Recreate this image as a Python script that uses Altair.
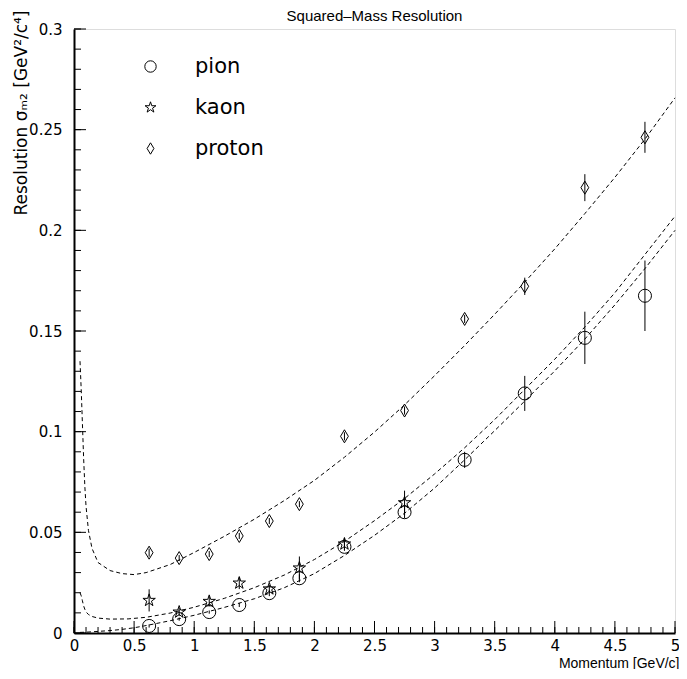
import altair as alt
import pandas as pd

# ---------------- data ----------------
momentum = [0.625, 0.875, 1.125, 1.375, 1.625, 1.875, 2.25, 2.75, 3.25, 3.75, 4.25, 4.75]

pion_res = [0.0035, 0.0069, 0.0104, 0.0139, 0.0198, 0.0272, 0.0428, 0.0600, 0.0860, 0.1190, 0.1466, 0.1675]
pion_err = [0.0008, 0.0008, 0.0008, 0.0010, 0.0015, 0.0020, 0.0020, 0.0030, 0.0040, 0.0087, 0.0130, 0.0175]

kaon_mom = [0.625, 0.875, 1.125, 1.375, 1.625, 1.875, 2.25, 2.75]
kaon_res = [0.0162, 0.0104, 0.0157, 0.0248, 0.0219, 0.0323, 0.0442, 0.0647]
kaon_err = [0.0055, 0.0020, 0.0025, 0.0030, 0.0020, 0.0057, 0.0030, 0.0060]

proton_res = [0.0399, 0.0372, 0.0392, 0.0482, 0.0556, 0.0640, 0.0977, 0.1105, 0.1560, 0.1722, 0.2212, 0.2462]
proton_err = [0.0020, 0.0015, 0.0015, 0.0015, 0.0015, 0.0015, 0.0020, 0.0020, 0.0020, 0.0043, 0.0067, 0.0077]

# fitted curves (dashed), read point by point
proton_fit_x = [0.05, 0.06, 0.07, 0.08, 0.09, 0.10, 0.12, 0.15, 0.2, 0.3, 0.4, 0.5, 0.6, 0.8, 1.0,
                1.25, 1.5, 1.75, 2.0, 2.25, 2.5, 2.75, 3.0, 3.25, 3.5, 3.75, 4.0, 4.25, 4.5, 4.75, 5.0]
proton_fit_y = [0.135, 0.121, 0.104, 0.087, 0.073, 0.063, 0.051, 0.042, 0.035, 0.031, 0.0295, 0.029, 0.030,
                0.034, 0.040, 0.048, 0.0565, 0.0658, 0.0758, 0.0873, 0.0998, 0.1133, 0.1278, 0.1428, 0.1583,
                0.1743, 0.1908, 0.2083, 0.2263, 0.2453, 0.2658]

kaon_fit_x = [0.05, 0.06, 0.07, 0.08, 0.09, 0.10, 0.12, 0.15, 0.2, 0.3, 0.45, 0.6, 0.8, 1.0,
              1.25, 1.5, 1.75, 2.0, 2.25, 2.5, 2.75, 3.0, 3.25, 3.5, 3.75, 4.0, 4.25, 4.5, 4.75, 5.0]
kaon_fit_y = [0.020, 0.0185, 0.016, 0.0135, 0.0118, 0.0105, 0.0092, 0.0082, 0.0074, 0.0069, 0.0070, 0.0078,
              0.0099, 0.0128, 0.0172, 0.0225, 0.0288, 0.0365, 0.0455, 0.0558, 0.0668, 0.079, 0.092, 0.106,
              0.121, 0.136, 0.152, 0.169, 0.188, 0.207]

pion_fit_x = [0.05, 0.1, 0.2, 0.3, 0.4, 0.5, 0.6, 0.8, 1.0, 1.25, 1.5, 1.75, 2.0, 2.25, 2.5, 2.75,
              3.0, 3.25, 3.5, 3.75, 4.0, 4.25, 4.5, 4.75, 5.0]
pion_fit_y = [0.0003, 0.0004, 0.0008, 0.0012, 0.0018, 0.0026, 0.0037, 0.0061, 0.0088, 0.0127, 0.017, 0.0225,
              0.0295, 0.0385, 0.0485, 0.0595, 0.072, 0.086, 0.1005, 0.1152, 0.1302, 0.146, 0.163, 0.181, 0.200]

particles = ["pion", "kaon", "proton"]
title_text = ["Squared–Mass Resolution"]

x_major = [0, 0.5, 1, 1.5, 2, 2.5, 3, 3.5, 4, 4.5, 5]
x_minor = [round(i * 0.1, 1) for i in range(51)]
y_major = [0, 0.05, 0.1, 0.15, 0.2, 0.25, 0.3]
y_minor = [round(i * 0.01, 2) for i in range(31)]

# ---------------- tables ----------------
rows = []
for p, r, e in zip(momentum, pion_res, pion_err):
    rows.append({"particle": "pion", "p": p, "res": r, "lo": r - e, "hi": r + e})
for p, r, e in zip(kaon_mom, kaon_res, kaon_err):
    rows.append({"particle": "kaon", "p": p, "res": r, "lo": r - e, "hi": r + e})
for p, r, e in zip(momentum, proton_res, proton_err):
    rows.append({"particle": "proton", "p": p, "res": r, "lo": r - e, "hi": r + e})
points = pd.DataFrame(rows)

curves = pd.concat([
    pd.DataFrame({"curve": "proton", "p": proton_fit_x, "res": proton_fit_y}),
    pd.DataFrame({"curve": "kaon", "p": kaon_fit_x, "res": kaon_fit_y}),
    pd.DataFrame({"curve": "pion", "p": pion_fit_x, "res": pion_fit_y}),
])

W, H = 601, 604
LABEL_FONT = "DejaVu Sans"

xscale = alt.Scale(domain=[0, 5], nice=False, zero=False)
yscale = alt.Scale(domain=[0, 0.3], nice=False, zero=False)

xaxis = alt.Axis(values=x_major, format="~g", ticks=False, grid=False, domainColor="black",
                 domainWidth=2, labelFont=LABEL_FONT, labelFontSize=15, labelColor="black",
                 labelPadding=5, labelFlush=False, labelOverlap=False,
                 title="Momentum [GeV/c]", titleFont="Liberation Sans", titleFontSize=14,
                 titleFontWeight="normal", titleColor="black", titleAlign="right",
                 titleBaseline="alphabetic", titleX=W + 4, titleY=34)
yaxis = alt.Axis(values=y_major, format="~g", ticks=False, grid=False, domainColor="black",
                 domainWidth=2, labelFont=LABEL_FONT, labelFontSize=15, labelColor="black",
                 labelPadding=12, labelFlush=False, labelOverlap=False,
                 title="Resolution σₘ₂ [GeV²/c⁴]", titleFont=LABEL_FONT, titleFontSize=17,
                 titleFontWeight="normal", titleColor="black", titleAngle=270, titleAlign="right",
                 titleBaseline="alphabetic", titleX=-48, titleY=-19)


def X(field):
    return alt.X(field, type="quantitative", scale=xscale, axis=xaxis)


def Y(field):
    return alt.Y(field, type="quantitative", scale=yscale, axis=yaxis)


star = ("M0,-1L0.2245,-0.309L0.951,-0.309L0.363,0.118L0.588,0.809L0,0.382"
        "L-0.588,0.809L-0.363,0.118L-0.951,-0.309L-0.2245,-0.309Z")
diamond = "M0,-1L0.6,0L0,1L-0.6,0Z"

xmaj = pd.DataFrame({"p": x_major})
xmin = pd.DataFrame({"p": x_minor})
ymaj = pd.DataFrame({"res": y_major})
ymin = pd.DataFrame({"res": y_minor})

tick_x_major = alt.Chart(xmaj).mark_rule(color="black", strokeWidth=1).encode(
    x=X("p"), y=alt.value(H), y2=alt.value(H - 12))
tick_x_minor = alt.Chart(xmin).mark_rule(color="black", strokeWidth=1).encode(
    x=X("p"), y=alt.value(H), y2=alt.value(H - 6))
tick_y_major = alt.Chart(ymaj).mark_rule(color="black", strokeWidth=1).encode(
    y=Y("res"), x=alt.value(0), x2=alt.value(12))
tick_y_minor = alt.Chart(ymin).mark_rule(color="black", strokeWidth=1).encode(
    y=Y("res"), x=alt.value(0), x2=alt.value(7))

lines = alt.Chart(curves).mark_line(color="black", strokeWidth=1, strokeDash=[4, 3]).encode(
    x=X("p"), y=Y("res"), detail="curve:N", order="p:Q")

errbars = alt.Chart(points).mark_rule(color="black", strokeWidth=1).encode(
    x=X("p"), y=Y("lo"), y2="hi:Q")

marks = alt.Chart(points).mark_point(filled=False, color="black", strokeWidth=1, size=170, opacity=1).encode(
    x=X("p"), y=Y("res"),
    shape=alt.Shape("particle:N",
                    scale=alt.Scale(domain=particles, range=["circle", star, diamond]),
                    legend=alt.Legend(title=None, orient="none", legendX=66, legendY=27,
                                      symbolSize=130, symbolFillColor="transparent",
                                      symbolStrokeColor="black", symbolStrokeWidth=1,
                                      labelFont=LABEL_FONT, labelFontSize=21, labelColor="black",
                                      labelOffset=34, rowPadding=19, padding=0)),
)

title = alt.Chart(pd.DataFrame({"t": title_text})).mark_text(
    font="Liberation Sans", fontSize=15, color="black", align="center", baseline="alphabetic"
).encode(text="t:N", x=alt.value(W / 2), y=alt.value(-8))

chart = alt.layer(tick_x_major, tick_x_minor, tick_y_major, tick_y_minor,
                  lines, errbars, marks, title).properties(
    width=W, height=H,
    autosize=alt.AutoSizeParams(type="none"),
    padding={"left": 66, "top": 21, "right": 4, "bottom": 36},
).configure_view(stroke="black", strokeWidth=1).configure(background="white")

chart.save("out.html", embed_options={"renderer": "svg", "actions": False})
